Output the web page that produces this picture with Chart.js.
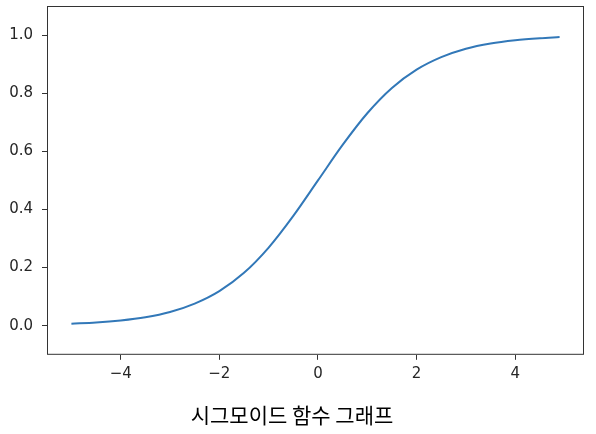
<!DOCTYPE html>
<html lang="ko">
<head>
    <meta charset="UTF-8">
    <title>시그모이드 함수 그래프</title>
    <script src="https://cdn.jsdelivr.net/npm/chart.js"></script>
    <style>
        html, body { margin: 0; padding: 0; background: #fff; }
        .chart-container { width: 596px; height: 434px; }
    </style>
</head>
<body>
    <div class="chart-container">
        <canvas id="myChart"></canvas>
    </div>
    <script>
        // values
        const xValues = [-5, -4.5, -4, -3.5, -3, -2.5, -2, -1.5, -1, -0.5, 0, 0.5, 1, 1.5, 2, 2.5, 3, 3.5, 4, 4.5, 4.9];
        const yValues = [0.007, 0.011, 0.018, 0.029, 0.047, 0.076, 0.119, 0.182, 0.269, 0.378, 0.5, 0.622, 0.731, 0.818, 0.881, 0.924, 0.953, 0.971, 0.982, 0.989, 0.993];
        const xTicks = [-4, -2, 0, 2, 4];
        const yTicks = [0.0, 0.2, 0.4, 0.6, 0.8, 1.0];
        const title = '시그모이드 함수 그래프';

        const points = xValues.map((x, i) => ({ x: x, y: yValues[i] }));

        // box around the plot area, like matplotlib spines
        const frame = {
            id: 'frame',
            afterDraw(chart) {
                const a = chart.chartArea;
                const ctx = chart.ctx;
                ctx.save();
                ctx.strokeStyle = '#333333';
                ctx.lineWidth = 1;
                ctx.strokeRect(a.left + 0.5, a.top + 0.5, a.right - a.left - 1, a.bottom - a.top - 1);
                ctx.restore();
            }
        };

        const config = {
            type: 'line',
            data: {
                datasets: [{
                    data: points,
                    borderColor: '#3278b8',
                    borderWidth: 2,
                    pointRadius: 0,
                    cubicInterpolationMode: 'monotone',
                    fill: false
                }]
            },
            options: {
                responsive: true,
                maintainAspectRatio: false,
                animation: false,
                layout: { padding: { left: 0, right: 12, top: 6, bottom: 0 } },
                plugins: {
                    legend: { display: false },
                    tooltip: { enabled: false },
                    title: {
                        display: true,
                        position: 'bottom',
                        text: title,
                        color: '#000',
                        font: { family: '"Noto Sans CJK KR"', size: 21, weight: 'normal' },
                        padding: { top: 0, bottom: 6 }
                    }
                },
                scales: {
                    x: {
                        type: 'linear',
                        min: -5.495,
                        max: 5.395,
                        afterBuildTicks: s => { s.ticks = xTicks.map(v => ({ value: v })); },
                        afterFit: s => { s.height = 48; s.paddingLeft = 0; s.paddingRight = 0; },
                        grid: { display: true, drawOnChartArea: false, tickLength: 5, color: '#333' },
                        border: { display: false },
                        ticks: {
                            color: '#262626',
                            padding: 5,
                            maxRotation: 0,
                            font: { family: '"DejaVu Sans"', size: 15 },
                            callback: v => (v < 0 ? '\u2212' + Math.abs(v) : String(v))
                        }
                    },
                    y: {
                        min: -0.1,
                        max: 1.1,
                        afterBuildTicks: s => { s.ticks = yTicks.map(v => ({ value: v })); },
                        afterFit: s => { s.width = 47; s.paddingTop = 0; s.paddingBottom = 0; },
                        grid: { display: true, drawOnChartArea: false, tickLength: 5, color: '#333' },
                        border: { display: false },
                        ticks: {
                            color: '#262626',
                            padding: 9,
                            font: { family: '"DejaVu Sans"', size: 15 },
                            callback: v => v.toFixed(1)
                        }
                    }
                }
            },
            plugins: [frame]
        };

        const myChart = new Chart(document.getElementById('myChart'), config);
    </script>
</body>
</html>
